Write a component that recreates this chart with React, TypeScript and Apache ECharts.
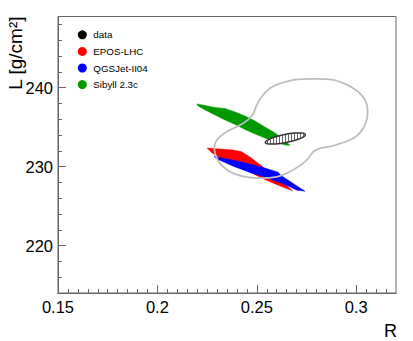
import React, { useEffect, useRef } from "react";
import * as echarts from "echarts";

const FONT = "'Liberation Sans', Arial, Helvetica, sans-serif";

const xMin = 0.15;
const xMax = 0.32;
const yMin = 214;
const yMax = 249;

const xTickLabels = [0.15, 0.2, 0.25, 0.3];
const xMinorTicks = [
  0.155, 0.16, 0.165, 0.17, 0.175, 0.18, 0.185, 0.19, 0.195, 0.205, 0.21, 0.215, 0.22, 0.225,
  0.23, 0.235, 0.24, 0.245, 0.255, 0.26, 0.265, 0.27, 0.275, 0.28, 0.285, 0.29, 0.295, 0.305,
  0.31, 0.315,
];
const yTickLabels = [220, 230, 240];
const yMinorTicks = [216, 218, 222, 224, 226, 228, 232, 234, 236, 238, 242, 244, 246, 248];

const legendNames = ["data", "EPOS-LHC", "QGSJet-II04", "Sibyll 2.3c"];
const legendColors = ["#000000", "#ff0000", "#0000ff", "#009a00"];

// [R, L] outline points
const contour: [number, number][] = [
  [0.2784, 231.88], [0.2751, 230.82], [0.2682, 229.56], [0.26, 228.71], [0.2483, 228.58],
  [0.2382, 229.14], [0.2315, 230.41], [0.2287, 232.09], [0.2299, 233.36], [0.2349, 234.41],
  [0.2432, 235.48], [0.2478, 236.53], [0.2508, 238.22], [0.2566, 239.92], [0.2667, 240.88],
  [0.2767, 241.1], [0.2884, 240.97], [0.2985, 239.92], [0.3044, 238.44], [0.3057, 236.62],
  [0.3035, 234.85], [0.2985, 233.58], [0.2884, 232.64], [0.2818, 232.31],
];

const dataEllipse: [number, number][] = [
  [0.2744, 234.06], [0.2733, 233.74], [0.2697, 233.37], [0.2647, 233.06], [0.2596, 232.87],
  [0.2558, 232.87], [0.2542, 233.04], [0.2554, 233.36], [0.259, 233.73], [0.2639, 234.05],
  [0.269, 234.24], [0.2729, 234.24],
];

const sibyllBand: [number, number][] = [
  [0.2198, 237.93], [0.224, 237.74], [0.229, 237.48], [0.234, 237.36], [0.2391, 236.91],
  [0.2441, 236.41], [0.2491, 235.77], [0.2541, 235.01], [0.2592, 234.25], [0.2632, 233.49],
  [0.2667, 232.69], [0.2642, 232.73], [0.2592, 233.11], [0.2541, 233.62], [0.2491, 234.12],
  [0.2441, 234.69], [0.2391, 235.33], [0.234, 235.9], [0.229, 236.53], [0.224, 237.17],
  [0.2205, 237.67],
];

const eposBand: [number, number][] = [
  [0.225, 232.35], [0.2315, 232.22], [0.2381, 232.09], [0.2421, 231.9], [0.2466, 231.2],
  [0.2516, 230.25], [0.2566, 229.3], [0.2617, 228.29], [0.268, 226.93], [0.2637, 227.34],
  [0.2577, 227.97], [0.2526, 228.54], [0.2466, 229.3], [0.2391, 230.19], [0.2325, 230.95],
  [0.2275, 231.71],
];

const qgsjetBand: [number, number][] = [
  [0.2285, 231.27], [0.2381, 230.82], [0.2516, 230.0], [0.2607, 229.3], [0.2622, 228.86],
  [0.2742, 226.89], [0.2702, 227.02], [0.2632, 227.84], [0.2551, 228.6], [0.2466, 229.24],
  [0.2381, 230.06], [0.23, 230.95],
];

function polygonSeries(name: string, pts: [number, number][], style: any, z: number, smooth = 0) {
  return {
    type: "custom",
    name,
    xAxisIndex: 0,
    yAxisIndex: 0,
    z,
    clip: true,
    data: pts,
    renderItem: (params: any, api: any) => {
      if (params.dataIndex !== 0) return null;
      const points = pts.map((p) => api.coord(p));
      return {
        type: "polygon",
        shape: { points, smooth },
        style,
      };
    },
  };
}

export default function App() {
  const ref = useRef<HTMLDivElement>(null);

  useEffect(() => {
    if (!ref.current) return;
    const chart = echarts.init(ref.current, null, { renderer: "svg" });

    const cv = document.createElement("canvas");
    cv.width = 3;
    cv.height = 3;
    const ctx = cv.getContext("2d");
    if (ctx) {
      ctx.fillStyle = "#ffffff";
      ctx.fillRect(0, 0, 3, 3);
      ctx.fillStyle = "#666666";
      ctx.fillRect(0, 0, 1, 3);
    }
    const hatch: any = { image: cv, repeat: "repeat", imageWidth: 3, imageHeight: 3 };

    const axisColor = "#666666";
    const labelStyle = { fontFamily: FONT, fontSize: 16.5, color: "#000" };

    chart.setOption({
      animation: false,
      backgroundColor: "#ffffff",
      grid: {
        left: 58,
        right: 17,
        top: 16.5,
        bottom: 48,
        show: true,
        borderColor: axisColor,
        borderWidth: 1,
        backgroundColor: "transparent",
      },
      legend: {
        orient: "vertical",
        left: 77.8,
        top: 29.8,
        padding: 0,
        itemWidth: 9,
        itemHeight: 9,
        itemGap: 6.6,
        icon: "circle",
        selectedMode: false,
        textStyle: { fontFamily: FONT, fontSize: 9.8, color: "#000", lineHeight: 9, padding: [0, 0, 0, 1.5] },
        data: legendNames.map((n, i) => ({ name: n, itemStyle: { color: legendColors[i] } })),
      },
      xAxis: [
        {
          type: "value",
          min: xMin,
          max: xMax,
          position: "bottom",
          z: 10,
          axisLine: { show: true, onZero: false, lineStyle: { color: axisColor, width: 1 } },
          axisTick: { show: true, inside: true, length: 8, customValues: xTickLabels, lineStyle: { color: axisColor, width: 1 } },
          axisLabel: { show: true, customValues: xTickLabels, margin: 5, ...labelStyle, formatter: (v: number) => String(v) },
          splitLine: { show: false },
        },
        {
          type: "value",
          min: xMin,
          max: xMax,
          position: "bottom",
          z: 10,
          axisLine: { show: true, onZero: false, lineStyle: { color: axisColor, width: 1 } },
          axisTick: { show: true, inside: true, length: 4, customValues: xMinorTicks, lineStyle: { color: axisColor, width: 1 } },
          axisLabel: { show: false },
          splitLine: { show: false },
        },
      ],
      yAxis: [
        {
          type: "value",
          min: yMin,
          max: yMax,
          position: "left",
          z: 10,
          axisLine: { show: true, onZero: false, lineStyle: { color: axisColor, width: 1 } },
          axisTick: { show: true, inside: true, length: 8, customValues: yTickLabels, lineStyle: { color: axisColor, width: 1 } },
          axisLabel: { show: true, customValues: yTickLabels, margin: 5, ...labelStyle },
          splitLine: { show: false },
        },
        {
          type: "value",
          min: yMin,
          max: yMax,
          position: "left",
          z: 10,
          axisLine: { show: true, onZero: false, lineStyle: { color: axisColor, width: 1 } },
          axisTick: { show: true, inside: true, length: 4, customValues: yMinorTicks, lineStyle: { color: axisColor, width: 1 } },
          axisLabel: { show: false },
          splitLine: { show: false },
        },
      ],
      graphic: [
        {
          type: "text",
          x: 15,
          y: 16.5,
          rotation: Math.PI / 2,
          style: {
            text: "L [g/cm²]",
            fontFamily: FONT,
            fontSize: 19,
            fill: "#000",
            align: "right",
            verticalAlign: "middle",
          },
        },
        {
          type: "text",
          x: 397,
          y: 331,
          style: {
            text: "R",
            fontFamily: FONT,
            fontSize: 18,
            fill: "#000",
            align: "right",
            verticalAlign: "middle",
          },
        },
      ],
      series: [
        polygonSeries("Sibyll 2.3c", sibyllBand, { fill: legendColors[3], stroke: legendColors[3], lineWidth: 0.5 }, 2),
        polygonSeries("EPOS-LHC", eposBand, { fill: legendColors[1], stroke: legendColors[1], lineWidth: 0.5 }, 3),
        polygonSeries("QGSJet-II04", qgsjetBand, { fill: legendColors[2], stroke: legendColors[2], lineWidth: 0.5 }, 4),
        polygonSeries("contour", contour, { fill: "none", stroke: "#bdbdbd", lineWidth: 1.8 }, 5, 0.3),
        polygonSeries("data", dataEllipse, { fill: hatch, stroke: "#333333", lineWidth: 1.5 }, 6, 0.3),
      ],
    });

    return () => chart.dispose();
  }, []);

  return <div ref={ref} style={{ position: "absolute", left: 0, top: 0, width: 413, height: 341 }} />;
}
